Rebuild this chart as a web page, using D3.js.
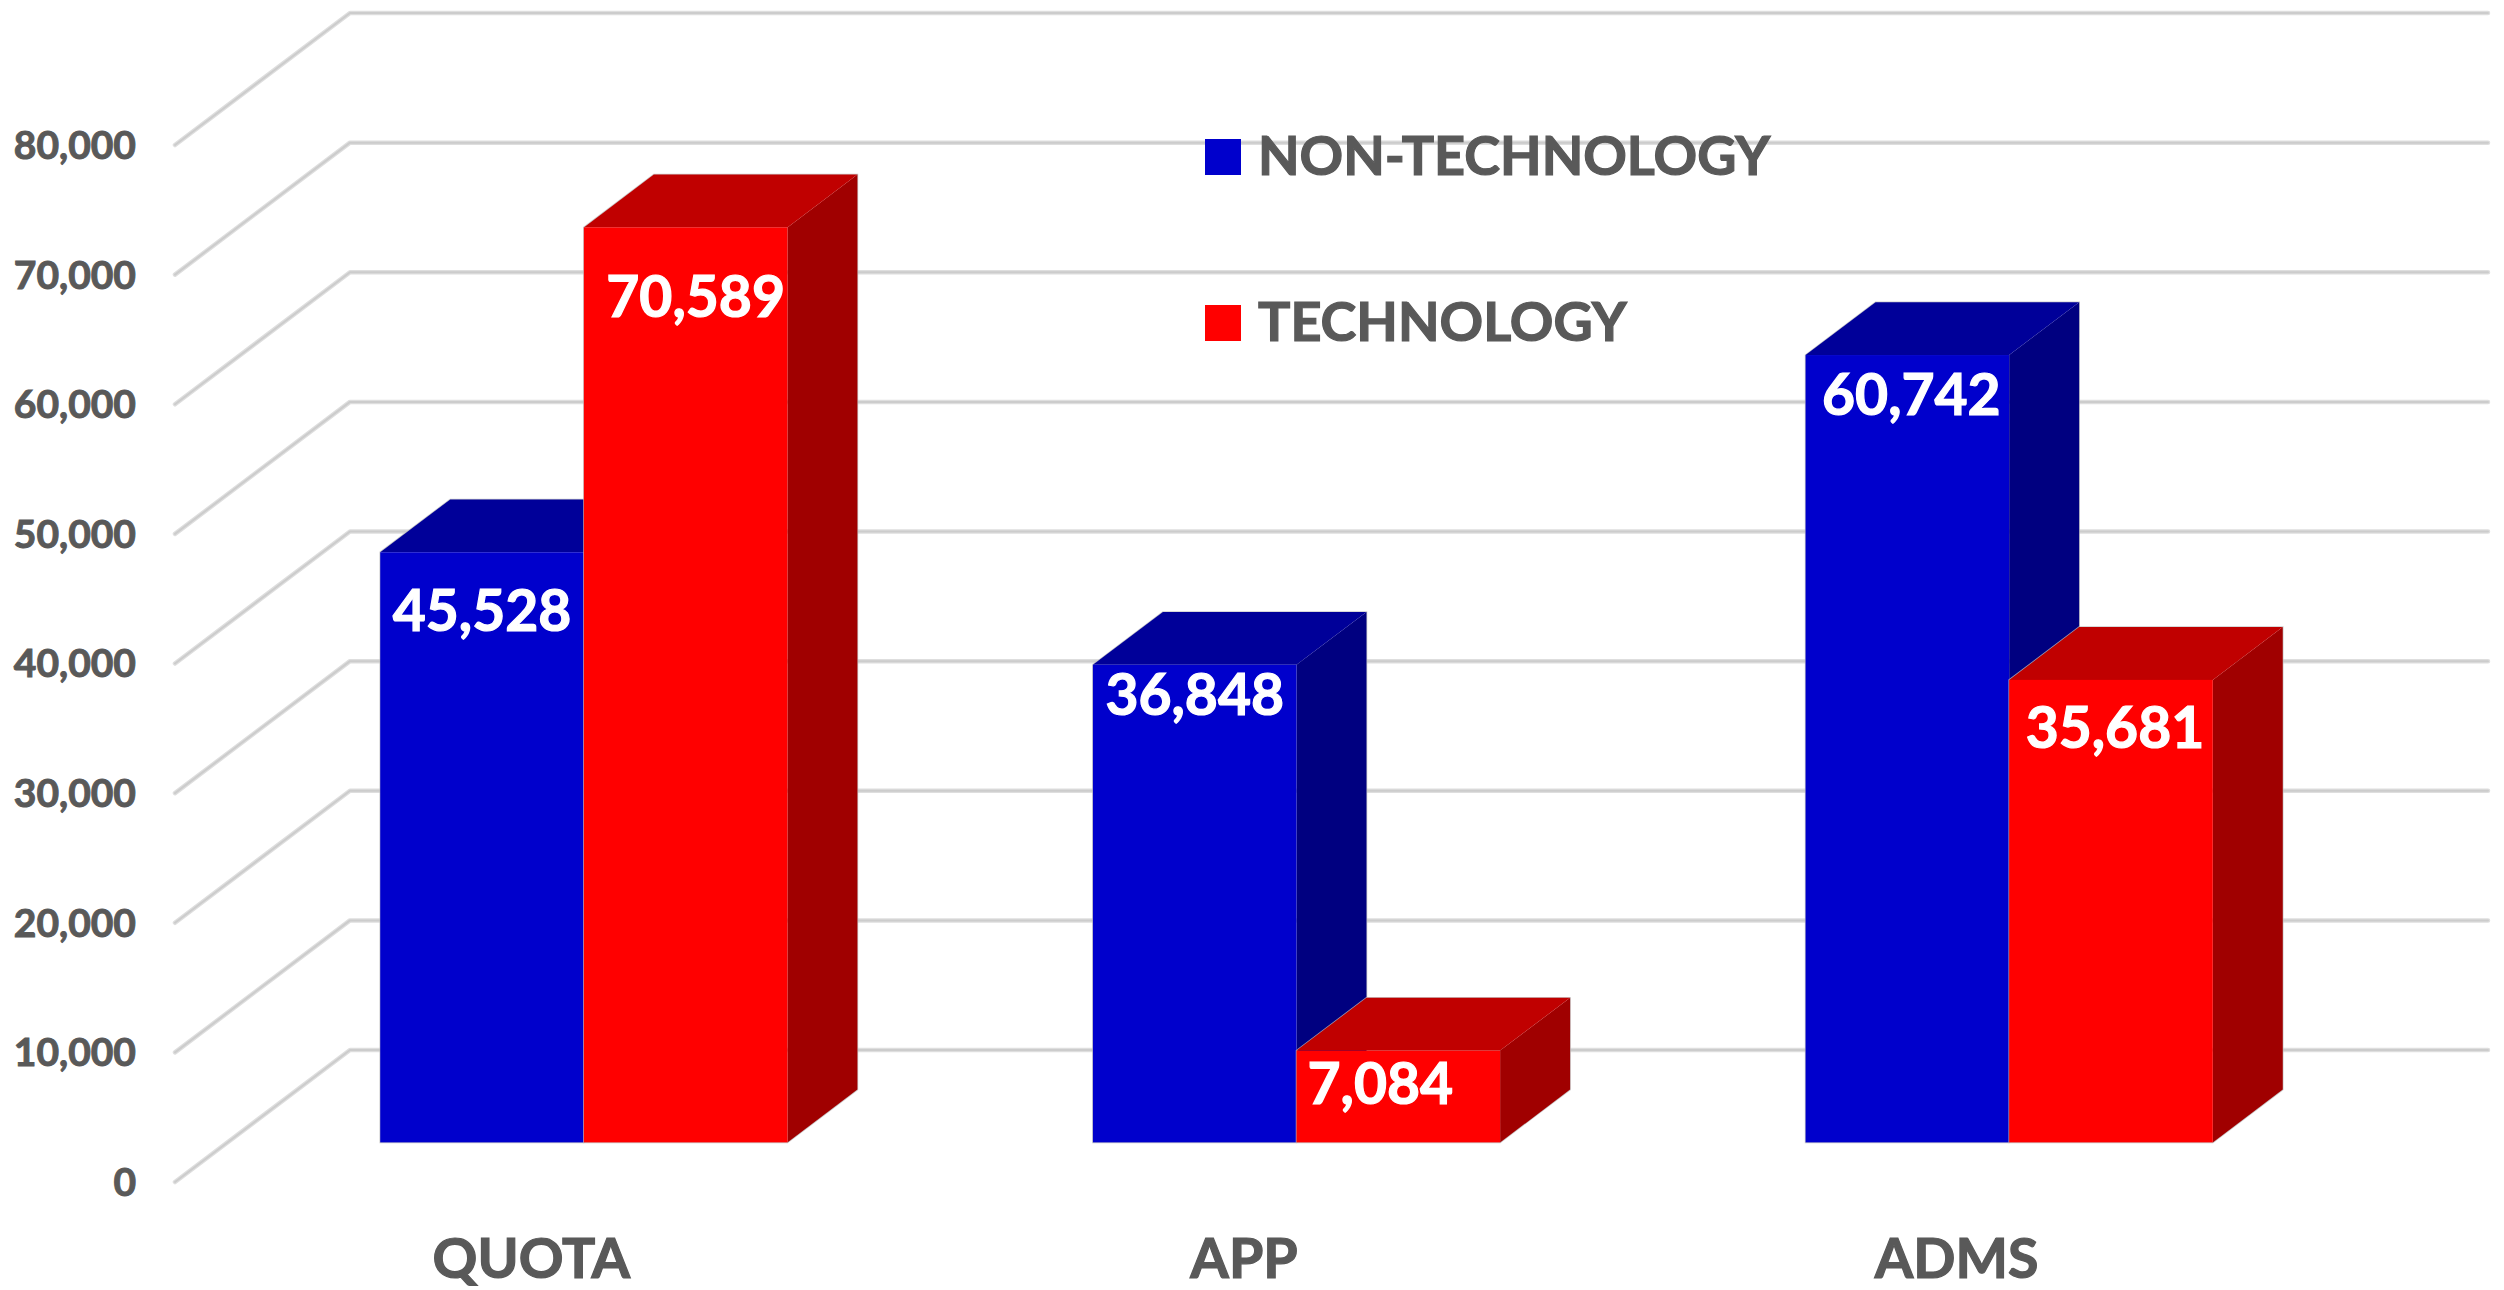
<!DOCTYPE html>
<html lang="en">
<head>
    <meta charset="UTF-8">
    <title>Technology vs non-technology</title>
    <script src="https://cdn.jsdelivr.net/npm/d3@7"></script>
    <style>
        html, body { margin: 0; padding: 0; background: #fff; }
        text { font-family: Lato, "Open Sans", sans-serif; font-weight: 700; paint-order: stroke; }
    </style>
</head>
<body>
    <script>
        // data
        var categories = ["QUOTA", "APP", "ADMS"];
        var seriesNames = ["NON-TECHNOLOGY", "TECHNOLOGY"];
        var nonTechnology = [45528, 36848, 60742];
        var technology = [70589, 7084, 35681];
        var axisTicks = [0, 10000, 20000, 30000, 40000, 50000, 60000, 70000, 80000];

        var width = 2504;
        var height = 1290;

        var colors = [
            {front: "#0000cc", top: "#000099", side: "#000080"},
            {front: "#ff0000", top: "#c00000", side: "#a00000"}
        ];

        // depth of the floor, and where the bars stand in it
        var depthX = 175;
        var depthY = 132;
        var barStart = 0.3;
        var barDepth = 0.4;

        var x = d3.scaleBand().domain(categories).range([175, 2313]).paddingInner(0).paddingOuter(0);
        var inner = d3.scaleBand().domain(d3.range(seriesNames.length))
            .range([x.bandwidth() * 0.2143, x.bandwidth() * 0.7857]);
        var y = d3.scaleLinear().domain([0, 80000]).range([1182, 145]);

        var svg = d3.select("body").append("svg")
            .attr("width", width)
            .attr("height", height)
            .style("display", "block");

        // side wall + back wall lines: a soft wide line with a darker core
        function wallPath(d) {
            var y0 = y(d);
            return "M" + x.range()[0] + "," + y0 +
                "L" + (x.range()[0] + depthX) + "," + (y0 - depthY) +
                "L" + (x.range()[1] + depthX) + "," + (y0 - depthY);
        }
        [["#dedede", 4.5], ["#cccccc", 2]].forEach(function (style) {
            svg.append("g").selectAll("path").data(axisTicks).enter().append("path")
                .attr("fill", "none")
                .attr("stroke", style[0])
                .attr("stroke-width", style[1])
                .attr("stroke-linecap", "round")
                .attr("stroke-linejoin", "round")
                .attr("d", wallPath);
        });

        // value axis, labels only
        var axis = svg.append("g")
            .attr("transform", "translate(136,1)")
            .call(d3.axisLeft(y).tickValues(axisTicks).tickSize(0).tickPadding(0).tickFormat(d3.format(",")));
        axis.select(".domain").remove();
        axis.selectAll("text")
            .attr("fill", "#595959")
            .attr("stroke", "#595959")
            .attr("stroke-width", 1)
            .style("font-size", "39px")
            .style("font-family", "Lato, sans-serif");

        // legend
        var legendTop = [139, 305];
        var legendTextX = [1258, 1258];
        var legend = svg.append("g").selectAll("g").data(seriesNames).enter().append("g");
        legend.append("rect")
            .attr("x", 1205)
            .attr("y", function (d, i) { return legendTop[i]; })
            .attr("width", 36)
            .attr("height", 36)
            .attr("fill", function (d, i) { return colors[i].front; });
        legend.append("text")
            .attr("x", function (d, i) { return legendTextX[i]; })
            .attr("y", function (d, i) { return legendTop[i] + 36; })
            .attr("fill", "#595959")
            .attr("stroke", "#595959")
            .attr("stroke-width", 1.2)
            .style("font-size", "54px")
            .text(function (d) { return d; });

        // one 3d box per value, blue first so red sits on top of its side face
        function polygon(points) {
            return points.map(function (p) { return p[0] + "," + p[1]; }).join(" ");
        }

        var outline = "rgba(190,190,190,0.8)";
        var valueFormat = d3.format(",");
        var bars = svg.append("g");
        var labels = svg.append("g");
        // labels were placed by hand in the original: [dx from bar centre, drop below bar top]
        var labelNudge = [
            [[0, 79], [0, 50], [4, 60]],
            [[10, 90], [-18, 53], [4, 68]]
        ];

        [nonTechnology, technology].forEach(function (values, s) {
            values.forEach(function (v, c) {
                var shiftX = depthX * barStart;
                var shiftY = depthY * barStart;
                var dx = depthX * barDepth;
                var dy = depthY * barDepth;
                var x0 = x(categories[c]) + inner(s) + shiftX;
                var x1 = x0 + inner.bandwidth();
                var y0 = y(0) - shiftY;
                var y1 = y(v) - shiftY;

                // faint edge round the whole box
                bars.append("polygon")
                    .attr("points", polygon([[x0, y0], [x0, y1], [x0 + dx, y1 - dy], [x1 + dx, y1 - dy], [x1 + dx, y0 - dy], [x1, y0]]))
                    .attr("fill", "none")
                    .attr("stroke", outline)
                    .attr("stroke-width", 1.5);
                bars.append("polygon")
                    .attr("points", polygon([[x1, y0], [x1 + dx, y0 - dy], [x1 + dx, y1 - dy], [x1, y1]]))
                    .attr("fill", colors[s].side);
                bars.append("polygon")
                    .attr("points", polygon([[x0, y1], [x0 + dx, y1 - dy], [x1 + dx, y1 - dy], [x1, y1]]))
                    .attr("fill", colors[s].top);
                bars.append("rect")
                    .attr("x", x0)
                    .attr("y", y1)
                    .attr("width", x1 - x0)
                    .attr("height", y0 - y1)
                    .attr("fill", colors[s].front);

                labels.append("text")
                    .attr("x", (x0 + x1) / 2 + labelNudge[s][c][0])
                    .attr("y", y1 + labelNudge[s][c][1])
                    .attr("text-anchor", "middle")
                    .attr("fill", "#fff")
                    .attr("stroke", "#fff")
                    .attr("stroke-width", 1.2)
                    .style("font-size", "57px")
                    .text(valueFormat(v));
            });
        });

        // category labels along the front of the floor
        svg.append("g").selectAll("text").data(categories).enter().append("text")
            .attr("x", function (d) { return x(d) + x.bandwidth() / 2; })
            .attr("y", 1278)
            .attr("text-anchor", "middle")
            .attr("fill", "#595959")
            .attr("stroke", "#595959")
            .attr("stroke-width", 1.2)
            .style("font-size", "55.5px")
            .text(function (d) { return d; });
    </script>
</body>
</html>
